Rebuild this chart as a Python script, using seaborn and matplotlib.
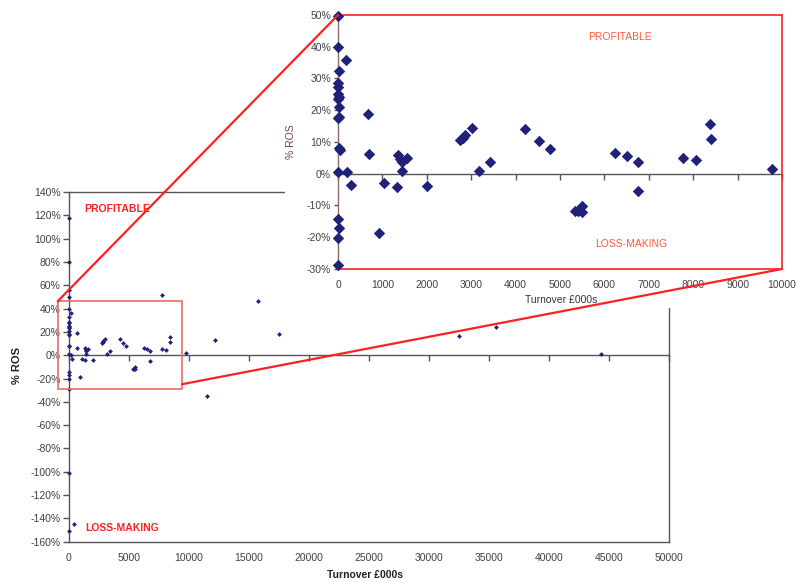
import matplotlib
matplotlib.use("Agg")
import matplotlib.pyplot as plt
from matplotlib.patches import Rectangle, ConnectionPatch
from matplotlib.ticker import PercentFormatter, MultipleLocator
import pandas as pd
import seaborn as sns

# turnover (£000s) and return on sales (%) per company
turnover = [
    0, 0, 20, 0, 0, 0, 30, 0, 20, 20, 0, 20, 40, 0, 0, 30, 0, 0,
    0, 0, 0, 0, 0, 400,
    170, 195, 285, 683, 706, 923, 1043, 1336, 1343, 1396, 1434, 1546, 1434,
    1997, 2748, 2808, 2860, 3010, 3176, 3423, 4212, 4520, 4775,
    5338, 5410, 5488, 5500, 6239, 6516, 6764, 6764, 7725, 7778, 8063,
    8378, 8394, 9767, 11496, 12136, 15736, 17540, 32502, 35553, 44331,
]
ros = [
    49.8, 40.0, 32.4, 28.5, 27.2, 25.1, 24.3, 23.5, 21.1, 18.0, 17.5, 8.0, 7.5,
    0.6, -14.4, -17.2, -20.1, -28.7,
    118.0, 80.0, 55.7, -100.8, -150.6, -145.0,
    35.8, 0.4, -3.5, 18.7, 6.1, -18.6, -3.0, -4.1, 5.9, 4.5, 3.6, 4.9, 0.9,
    -3.9, 10.6, 11.4, 12.2, 14.3, 1.0, 3.8, 14.1, 10.3, 7.7,
    -11.6, -11.6, -10.3, -12.2, 6.4, 5.6, 3.6, -5.4, 51.4, 4.9, 4.2,
    15.6, 10.9, 1.5, -34.6, 12.9, 46.3, 18.0, 16.6, 24.3, 0.8,
]

main_xticks = list(range(0, 50001, 5000))
inset_xticks = list(range(0, 10001, 1000))

NAVY = "#1f2278"
FRAME = "#555555"
TXT = "#404048"
RED = "#ff2020"

sns.set_theme(style="white")
plt.rcParams["font.family"] = ["Liberation Sans", "DejaVu Sans"]
plt.rcParams["axes.unicode_minus"] = False

df = pd.DataFrame({"turnover": turnover, "ros": ros})
zoom = df[df["turnover"].between(0, 10000) & df["ros"].between(-30, 50)]

W, H = 796, 583
fig = plt.figure(figsize=(W / 100, H / 100), dpi=100)

# ---- main chart
ax = fig.add_axes([69 / W, 1 - 541.7 / H, 600 / W, 349.7 / H])
sns.scatterplot(data=df, x="turnover", y="ros", marker="D", s=6, color=NAVY,
                linewidth=0, ax=ax, clip_on=False, zorder=4)
ax.set_xlim(0, 50000)
ax.set_ylim(-160, 140)
for sp in ax.spines.values():
    sp.set_color(FRAME)
    sp.set_linewidth(1)
ax.set_xticks(main_xticks)
ax.yaxis.set_major_locator(MultipleLocator(20))
ax.yaxis.set_major_formatter(PercentFormatter(100, decimals=0))
ax.tick_params(axis="x", length=0, pad=8, labelsize=7.5, labelcolor=TXT)
ax.tick_params(axis="y", length=4, width=1, color=FRAME, direction="out",
               pad=2, labelsize=7.5, labelcolor=TXT, left=True)

sec = ax.secondary_xaxis(160 / 300)
sec.set_alignment("bottom")
sec.set_xticks(main_xticks)
sec.tick_params(direction="out", length=4, width=1, color=FRAME, labelbottom=False)
sec.spines["bottom"].set_color(FRAME)
sec.spines["bottom"].set_linewidth(1)

ax.set_xlabel("Turnover £000s", fontsize=7.5, fontweight="bold", color="#222222")
ax.set_ylabel("% ROS", fontsize=8, fontweight="bold", color="#222222")
ax.xaxis.set_label_coords(0.493, -0.082)
ax.yaxis.set_label_coords(-0.078, 0.505)

ax.text(0.08, 0.951, "PROFITABLE", transform=ax.transAxes, color=RED,
        fontsize=7.5, fontweight="bold", ha="center", va="center")
ax.text(0.088, 0.04, "LOSS-MAKING", transform=ax.transAxes, color=RED,
        fontsize=7.5, fontweight="bold", ha="center", va="center")

ax.add_patch(Rectangle((-940, -29.1), 10358, 75.4, fill=False,
                       edgecolor="#f06a6a", linewidth=1.2, clip_on=False, zorder=5))

# white backing of the pasted zoom panel
fig.add_artist(Rectangle((285 / W, 1 - 308 / H), 1, 1, transform=fig.transFigure,
                         facecolor="white", edgecolor="none", zorder=1))

# ---- zoomed panel
ins = fig.add_axes([338 / W, 1 - 269 / H, 444 / W, 254 / H])
ins.set_zorder(2)
sns.scatterplot(data=zoom, x="turnover", y="ros", marker="D", s=34, color=NAVY,
                linewidth=0, ax=ins, clip_on=False, zorder=4)
ins.set_xlim(0, 10000)
ins.set_ylim(-30, 50)
for name in ("top", "right", "bottom"):
    ins.spines[name].set_color(RED)
    ins.spines[name].set_linewidth(1.2)
ins.spines["left"].set_color("#8a6a6a")
ins.spines["left"].set_linewidth(1)
ins.set_xticks(inset_xticks)
ins.yaxis.set_major_locator(MultipleLocator(10))
ins.yaxis.set_major_formatter(PercentFormatter(100, decimals=0))
ins.tick_params(axis="x", length=0, pad=8, labelsize=7.5, labelcolor=TXT)
ins.tick_params(axis="y", length=3, width=1, color=FRAME, direction="out",
                pad=2, labelsize=7.5, labelcolor=TXT, left=True)

sec2 = ins.secondary_xaxis(30 / 80)
sec2.set_alignment("bottom")
sec2.set_xticks(inset_xticks)
sec2.tick_params(direction="out", length=4, width=1, color=FRAME, labelbottom=False)
sec2.spines["bottom"].set_color(FRAME)
sec2.spines["bottom"].set_linewidth(1)

ins.set_xlabel("Turnover £000s", fontsize=7.5, color="#3a3040")
ins.set_ylabel("% ROS", fontsize=7.5, color="#6a4a40")
ins.xaxis.set_label_coords(0.502, -0.102)
ins.yaxis.set_label_coords(-0.094, 0.5)

ins.text(0.635, 0.913, "PROFITABLE", transform=ins.transAxes, color="#ff5a3c",
         fontsize=7.5, ha="center", va="center")
ins.text(0.66, 0.098, "LOSS-MAKING", transform=ins.transAxes, color="#ff5a3c",
         fontsize=7.5, ha="center", va="center")

# ---- connector lines from the zoom box to the panel
for a_xy, b_xy in [((-940, 46.3), (0, 1)), ((9418, -24.9), (1, 0))]:
    con = ConnectionPatch(xyA=a_xy, coordsA=ax.transData, xyB=b_xy,
                          coordsB=ins.transAxes, color=RED, linewidth=1.6)
    con.set_zorder(3)
    fig.add_artist(con)

fig.savefig("out.png", dpi=100)
